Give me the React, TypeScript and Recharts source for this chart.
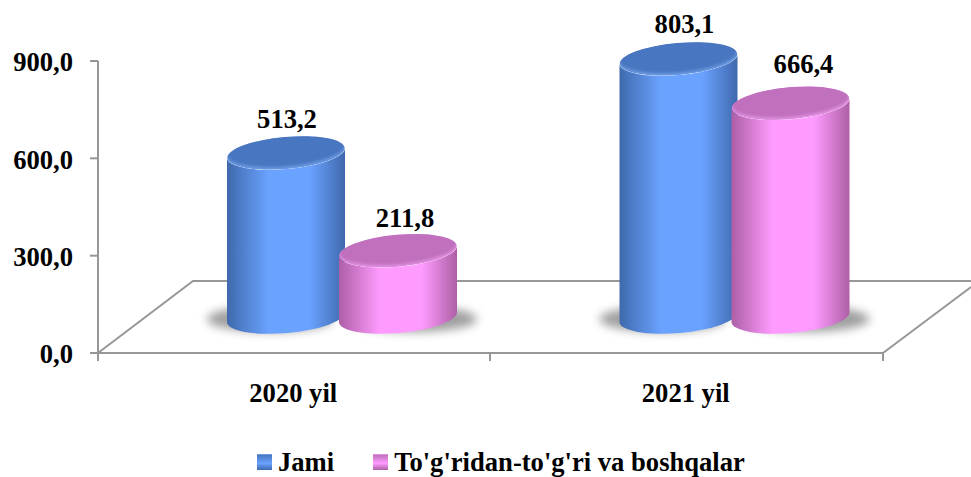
import { BarChart, Bar, XAxis, YAxis, Legend, LabelList, Customized } from 'recharts'

const categories = ['2020 yil', '2021 yil']
const jami = [513.2, 803.1]
const togridan = [211.8, 666.4]
const yTicks = [0, 300, 600, 900]
const SERIES_NAMES = ['Jami', "To'g'ridan-to'g'ri va boshqalar"]

const chartData = categories.map((name, i) => ({ name, jami: jami[i], togridan: togridan[i] }))

const FONT = '"Liberation Serif", "Times New Roman", serif'
const FONT_SIZE = 26.6
const AXIS_GRAY = '#979797'
const comma = (v: number) => v.toFixed(1).replace('.', ',')

const BLUE = { id: 'blue', edge: '#3f69ad', mid: '#6aa2ff', top: '#4a76c0', rim: '#6c9be4' }
const PINK = { id: 'pink', edge: '#ad5fa6', mid: '#ff9bff', top: '#c070bd', rim: '#e28fe1' }

// the 3d look pushes the cylinders back and right of the flat band position
const DX = 45
const CYL_W = 118
const TOP_SHIFT = 33.5
const BASE_SHIFT = 36
const RY = 16
const TILT = 5

function Cylinder(props: any) {
  const { x, y, height, c, shadowFrom } = props
  const left = x + DX
  const right = left + CYL_W
  const cx = left + CYL_W / 2
  const rx = CYL_W / 2
  const topY = y - TOP_SHIFT
  const baseY = y + height - BASE_SHIFT
  const lift = rx * Math.sin((TILT * Math.PI) / 180)
  const body = `M${left},${topY + lift} L${left},${baseY + lift} A${rx},${RY} ${-TILT} 0 0 ${right},${baseY - lift} L${right},${topY - lift} A${rx},${RY} ${-TILT} 0 1 ${left},${topY + lift} Z`
  return (
    <g>
      <defs>
        <linearGradient id={`body-${c.id}`} x1="0" y1="0" x2="1" y2="0">
          <stop offset="0%" stopColor={c.edge} />
          <stop offset="35%" stopColor={c.mid} />
          <stop offset="70%" stopColor={c.mid} />
          <stop offset="100%" stopColor={c.edge} />
        </linearGradient>
        <filter id={`blur-${c.id}`} x="-30%" y="-60%" width="160%" height="220%">
          <feGaussianBlur stdDeviation="5" />
        </filter>
        <filter id={`soft-${c.id}`} x="-10%" y="-20%" width="120%" height="140%">
          <feGaussianBlur stdDeviation="1.6" />
        </filter>
        <clipPath id={`cap-${c.id}-${Math.round(y)}`}>
          <ellipse cx={cx} cy={topY} rx={rx} ry={RY} />
        </clipPath>
      </defs>
      <ellipse cx={cx + shadowFrom} cy={baseY + 2} rx={rx + 4} ry={13} fill="#777" opacity={0.7} filter={`url(#blur-${c.id})`} />
      <path d={body} fill={`url(#body-${c.id})`} />
      <g transform={`rotate(${-TILT} ${cx} ${topY})`}>
        <g clipPath={`url(#cap-${c.id}-${Math.round(y)})`}>
          <ellipse cx={cx} cy={topY} rx={rx} ry={RY} fill={c.rim} />
          <ellipse cx={cx} cy={topY - 2.5} rx={rx} ry={RY} fill={c.top} filter={`url(#soft-${c.id})`} />
        </g>
      </g>
    </g>
  )
}

const labelNudge: Record<string, number[][]> = { jami: [[1, 0], [6, -1]], togridan: [[7, 1], [13, -6]] }

function ValueLabel(props: any) {
  const { x, y, width, value, index, seriesKey } = props
  const [nx, ny] = labelNudge[seriesKey][index]
  return (
    <text x={x + width / 2 + DX + 3 + nx} y={y - 58 + ny} textAnchor="middle" fontFamily={FONT} fontWeight="bold" fontSize={FONT_SIZE} fill="#000">
      {comma(value)}
    </text>
  )
}

// perspective floor outline and the category boundary ticks
function Floor() {
  return (
    <g stroke={AXIS_GRAY} strokeWidth={2} fill="none">
      <path d="M98,353 L193,281 L971,281" />
      <path d="M883,353 L971,287" />
      <path d="M98,353 L98,361 M490,353 L490,361 M883,353 L883,361" />
    </g>
  )
}

function LegendIcon({ c }: { c: typeof BLUE }) {
  return (
    <span
      style={{
        display: 'inline-block',
        width: 15,
        height: 16,
        marginRight: 6,
        background: `linear-gradient(180deg, ${c.top} 0%, ${c.mid} 55%, ${c.edge} 100%)`,
        borderTop: `1px solid ${c.rim}`,
        boxSizing: 'border-box',
      }}
    />
  )
}

function ChartLegend() {
  return (
    <div style={{ display: 'flex', alignItems: 'center', fontFamily: FONT, fontWeight: 'bold', fontSize: FONT_SIZE, color: '#000', lineHeight: '26px', whiteSpace: 'nowrap' }}>
      <LegendIcon c={BLUE} />
      <span style={{ marginRight: 39 }}>{SERIES_NAMES[0]}</span>
      <LegendIcon c={PINK} />
      <span>{SERIES_NAMES[1]}</span>
    </div>
  )
}

export default function App() {
  return (
    <div style={{ position: 'absolute', left: 0, top: 0, width: 971, height: 477, overflow: 'hidden', background: '#fff' }}>
      <BarChart
        width={971}
        height={477}
        data={chartData}
        barSize={112}
        barGap={0}
        margin={{ top: 61, right: 88, left: 0, bottom: 34 }}
      >
        <Customized component={Floor} />
        <XAxis
          dataKey="name"
          height={60}
          tickLine={false}
          axisLine={{ stroke: AXIS_GRAY, strokeWidth: 2 }}
          tick={{ fontFamily: FONT, fontWeight: 'bold', fontSize: FONT_SIZE, fill: '#000', dx: -1 }}
          tickMargin={24}
        />
        <YAxis
          width={98}
          domain={[0, 900]}
          ticks={yTicks}
          tickFormatter={comma}
          tickSize={8}
          tickMargin={17}
          tickLine={{ stroke: AXIS_GRAY, strokeWidth: 2 }}
          axisLine={{ stroke: AXIS_GRAY, strokeWidth: 2 }}
          tick={{ fontFamily: FONT, fontWeight: 'bold', fontSize: FONT_SIZE, fill: '#000', dy: 1 }}
        />
        <Legend
          content={<ChartLegend />}
          height={30}
          wrapperStyle={{ left: 257, top: 449, width: 'auto', bottom: 'auto' }}
        />
        <Bar dataKey="jami" isAnimationActive={false} shape={(p: any) => <Cylinder {...p} c={BLUE} shadowFrom={-16} />}>
          <LabelList dataKey="jami" content={(p: any) => <ValueLabel {...p} seriesKey="jami" />} />
        </Bar>
        <Bar dataKey="togridan" isAnimationActive={false} shape={(p: any) => <Cylinder {...p} c={PINK} shadowFrom={16} />}>
          <LabelList dataKey="togridan" content={(p: any) => <ValueLabel {...p} seriesKey="togridan" />} />
        </Bar>
      </BarChart>
    </div>
  )
}
